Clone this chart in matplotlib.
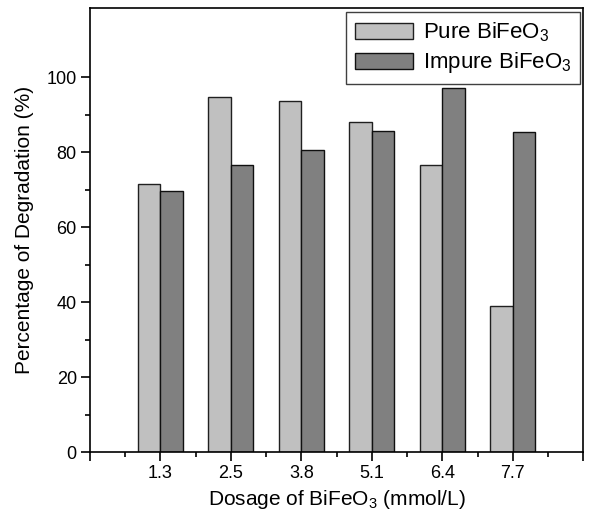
import numpy as np
import matplotlib.pyplot as plt
from matplotlib.ticker import MultipleLocator, FixedLocator

plt.rcParams.update({
    "font.family": "Liberation Sans",
    "mathtext.default": "regular",
})

dosages = ["1.3", "2.5", "3.8", "5.1", "6.4", "7.7"]
pure = [71.5, 94.9, 93.6, 88.2, 76.7, 39.0]
impure = [69.8, 76.7, 80.5, 85.8, 97.2, 85.4]

fig = plt.figure(figsize=(6.12, 5.16), dpi=100)
ax = fig.add_axes([0.147, 0.124, 0.806, 0.861])

x = np.arange(1, len(dosages) + 1)
w = 0.32
ax.bar(x - w / 2, pure, w, color="#c0c0c0", edgecolor="#202020", linewidth=1.0,
       label="Pure BiFeO$_3$")
ax.bar(x + w / 2, impure, w, color="#808080", edgecolor="#101010", linewidth=1.0,
       label="Impure BiFeO$_3$")

ax.set_xlim(0, 7)
ax.set_ylim(0, 118.6)
ax.xaxis.set_major_locator(FixedLocator(np.arange(0, 8)))
ax.set_xticklabels([""] + dosages + [""])
ax.xaxis.set_minor_locator(MultipleLocator(0.5))
ax.yaxis.set_major_locator(FixedLocator([0, 20, 40, 60, 80, 100]))
ax.yaxis.set_minor_locator(FixedLocator([10, 30, 50, 70, 90]))
ax.tick_params(which="both", direction="out", top=False, right=False,
               labelsize=13, width=1.2, pad=3)
ax.tick_params(which="major", length=6.5)
ax.tick_params(which="minor", length=3.3)
for s in ax.spines.values():
    s.set_linewidth(1.2)

ax.set_xlabel("Dosage of BiFeO$_3$ (mmol/L)", fontsize=15, labelpad=4)
ax.set_ylabel("Percentage of Degradation (%)", fontsize=15, labelpad=9)

leg = ax.legend(loc="upper right", fontsize=16, handlelength=2.6, handleheight=0.72,
                fancybox=False, framealpha=1, edgecolor="#404040",
                borderaxespad=0, borderpad=0.4, labelspacing=0.28,
                handletextpad=0.45, bbox_to_anchor=(0.994, 0.991))
leg.get_frame().set_linewidth(1.0)

fig.savefig("out.png", dpi=100)
